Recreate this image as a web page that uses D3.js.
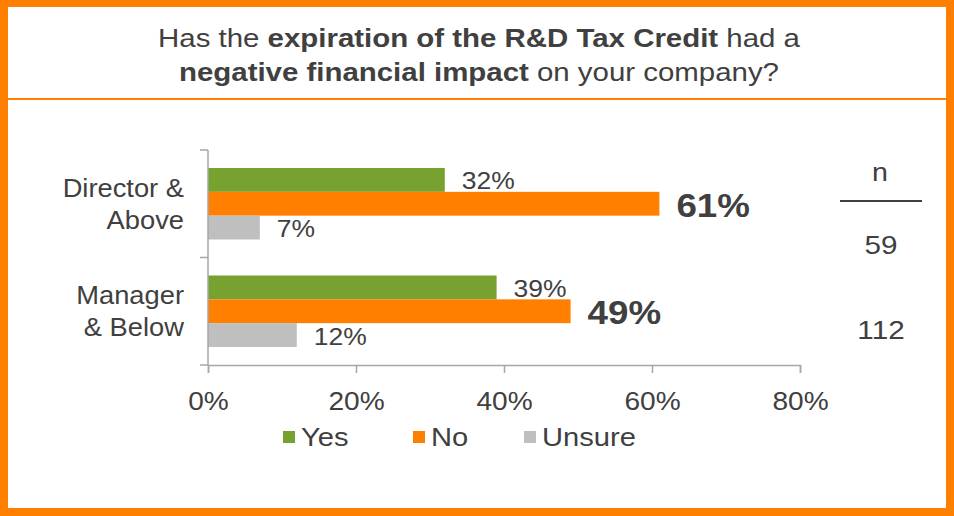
<!DOCTYPE html>
<html>
<head>
<meta charset="utf-8">
<script src="https://cdn.jsdelivr.net/npm/d3@7"></script>
<style>
  html, body { margin: 0; padding: 0; background: #fff; }
  svg { display: block; font-family: "Liberation Sans", Arial, sans-serif; }
</style>
</head>
<body>
<svg id="chart" width="954" height="516"></svg>
<script>
// Survey responses by seniority
const categories = ["Director & Above", "Manager & Below"];
const categoryLines = [["Director &", "Above"], ["Manager", "& Below"]];
const seriesNames = ["Yes", "No", "Unsure"];
const yesValues = [32, 39];
const noValues = [61, 49];
const unsureValues = [7, 12];
const sampleSizes = [59, 112];
const xTicks = [0, 20, 40, 60, 80];

const colors = { Yes: "#78a22f", No: "#ff8000", Unsure: "#bfbfbf" };
const textColor = "#404040";
const axisColor = "#a6a6a6";
const WIDEN = 1.08; // slightly wider glyphs than the stock face

const svg = d3.select("#chart");
const W = 954, H = 516;

// Stretch text horizontally by a factor, keeping its anchor
function widen(sel, k) {
  sel.each(function () {
    const len = this.getComputedTextLength();
    d3.select(this).attr("textLength", len * k).attr("lengthAdjust", "spacingAndGlyphs");
  });
}

// Frame
svg.append("rect").attr("x", 0).attr("y", 0).attr("width", W).attr("height", H).attr("fill", "#ff8000");
svg.append("rect").attr("x", 8).attr("y", 7).attr("width", W - 16).attr("height", H - 15).attr("fill", "#fff");
svg.append("rect").attr("x", 8).attr("y", 98).attr("width", W - 16).attr("height", 2).attr("fill", "#ff8000");

// Title
const title = svg.append("g").attr("fill", textColor).attr("font-size", 26.5);
const titleLines = [
  [["Has the ", false], ["expiration of the R&D Tax Credit", true], [" had a", false]],
  [["negative financial impact", true], [" on your company?", false]]
];
titleLines.forEach((parts, li) => {
  const t = title.append("text").attr("text-anchor", "middle").attr("x", 479).attr("y", li === 0 ? 47 : 81);
  parts.forEach(([s, b]) => t.append("tspan").attr("font-weight", b ? "bold" : "normal").text(s));
  widen(t, 1.11);
});

// Scales
const x = d3.scaleLinear().domain([0, 80]).range([208, 800]);
const y = d3.scaleBand().domain(categories).range([150, 365]).paddingInner(0.335).paddingOuter(0.1675);
const ySub = d3.scaleBand().domain(seriesNames).range([0, y.bandwidth()]);

const valuesBySeries = { Yes: yesValues, No: noValues, Unsure: unsureValues };
const rows = [];
categories.forEach((c, i) => {
  seriesNames.forEach(s => rows.push({ cat: c, i, series: s, value: valuesBySeries[s][i] }));
});

// Bars
svg.append("g").selectAll("rect").data(rows).join("rect")
  .attr("x", x(0))
  .attr("y", d => y(d.cat) + ySub(d.series))
  .attr("width", d => x(d.value) - x(0))
  .attr("height", ySub.bandwidth())
  .attr("fill", d => colors[d.series]);

// Value labels ("No" emphasised)
svg.append("g").selectAll("text").data(rows).join("text")
  .attr("x", d => x(d.value) + 17)
  .attr("y", d => y(d.cat) + ySub(d.series) + ySub.bandwidth() / 2 + 1)
  .attr("dy", "0.35em")
  .attr("fill", textColor)
  .attr("font-size", d => d.series === "No" ? 34 : 24.5)
  .attr("font-weight", d => d.series === "No" ? "bold" : "normal")
  .text(d => d.value + "%")
  .call(widen, WIDEN);

// Y axis line and category ticks
const yAxis = svg.append("g").attr("stroke", axisColor).attr("stroke-width", 1.5);
yAxis.append("line").attr("x1", x(0)).attr("x2", x(0)).attr("y1", 150).attr("y2", 365);
[150, y(categories[1]) - y.step() * y.paddingInner() / 2, 365].forEach(v => {
  yAxis.append("line").attr("x1", x(0) - 8).attr("x2", x(0)).attr("y1", v).attr("y2", v);
});

// Category labels
categories.forEach((c, i) => {
  const cy = y(c) + y.bandwidth() / 2;
  categoryLines[i].forEach((line, k) => {
    svg.append("text").attr("text-anchor", "end").attr("fill", textColor).attr("font-size", 26)
      .attr("x", 184).attr("y", cy + (k === 0 ? -16 : 16)).attr("dy", "0.35em").text(line)
      .call(widen, 1.05);
  });
});

// X axis
const xAxisG = svg.append("g").attr("transform", "translate(0,365)")
  .call(d3.axisBottom(x).tickValues(xTicks).tickFormat(d => d + "%").tickSize(8).tickPadding(19));
xAxisG.select(".domain").attr("stroke", axisColor).attr("stroke-width", 1.5);
xAxisG.selectAll(".tick line").attr("stroke", axisColor).attr("stroke-width", 1.5);
xAxisG.selectAll(".tick text").attr("fill", textColor).attr("font-size", 26)
  .attr("font-family", "Liberation Sans, Arial, sans-serif")
  .call(widen, WIDEN);

// Legend
const legendX = [283, 413, 524];
const legend = svg.append("g");
seriesNames.forEach((s, i) => {
  legend.append("rect").attr("x", legendX[i]).attr("y", 431).attr("width", 12).attr("height", 12).attr("fill", colors[s]);
  legend.append("text").attr("x", legendX[i] + 18).attr("y", 437).attr("dy", "0.35em")
    .attr("fill", textColor).attr("font-size", 26).text(s)
    .call(widen, 1.12);
});

// Sample size column
svg.append("text").attr("x", 880).attr("y", 172).attr("dy", "0.35em").attr("text-anchor", "middle")
  .attr("fill", textColor).attr("font-size", 26).text("n").call(widen, 1.1);
svg.append("line").attr("x1", 840).attr("x2", 922).attr("y1", 201).attr("y2", 201)
  .attr("stroke", textColor).attr("stroke-width", 2);
sampleSizes.forEach((n, i) => {
  svg.append("text").attr("x", 881).attr("y", i === 0 ? 245 : 330).attr("dy", "0.35em")
    .attr("text-anchor", "middle").attr("fill", textColor).attr("font-size", 26).text(n)
    .call(widen, 1.14);
});
</script>
</body>
</html>
